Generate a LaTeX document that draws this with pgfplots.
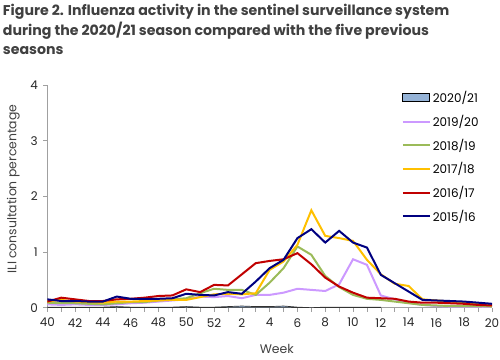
\documentclass[border=0pt]{standalone}
\usepackage{fontspec}
\setmainfont{Poppins}
\usepackage{pgfplots}
\usepackage{pgfplotstable}
\pgfplotsset{compat=1.18}
\definecolor{c2021}{RGB}{149,179,215}
\definecolor{c1920}{RGB}{204,153,255}
\definecolor{c1819}{RGB}{155,187,89}
\definecolor{c1718}{RGB}{255,192,0}
\definecolor{c1617}{RGB}{192,0,0}
\definecolor{c1516}{RGB}{0,0,128}
\definecolor{axgray}{RGB}{160,160,160}
\definecolor{txt}{RGB}{64,64,64}
% i = index (0 = week 40, 12 = week 52, 13 = week 1, 32 = week 20)
\pgfplotstableread{
i wk  s1920 s1819 s1718 s1617 s1516
0  40 0.06 0.09 0.11 0.11 0.15
1  41 0.05 0.08 0.14 0.18 0.12
2  42 0.06 0.08 0.11 0.15 0.12
3  43 0.05 0.07 0.10 0.12 0.11
4  44 0.05 0.06 0.09 0.12 0.11
5  45 0.06 0.08 0.11 0.15 0.20
6  46 0.08 0.10 0.11 0.16 0.16
7  47 0.09 0.10 0.12 0.18 0.16
8  48 0.11 0.13 0.13 0.21 0.16
9  49 0.13 0.15 0.14 0.22 0.17
10 50 0.15 0.17 0.14 0.33 0.25
11 51 0.20 0.26 0.19 0.28 0.23
12 52 0.19 0.34 0.24 0.41 0.22
13 1  0.21 0.32 0.25 0.40 0.28
14 2  0.17 0.32 0.24 0.60 0.25
15 3  0.23 0.23 0.26 0.80 0.47
16 4  0.23 0.45 0.68 0.84 0.71
17 5  0.27 0.71 0.83 0.87 0.86
18 6  0.34 1.10 1.13 0.98 1.25
19 7  0.32 0.95 1.75 0.78 1.41
20 8  0.30 0.57 1.29 0.54 1.17
21 9  0.42 0.37 1.25 0.38 1.38
22 10 0.87 0.23 1.20 0.27 1.17
23 11 0.77 0.16 0.86 0.18 1.08
24 12 0.22 0.14 0.60 0.17 0.59
25 13 0.15 0.11 0.43 0.16 0.44
26 14 0.09 0.08 0.39 0.11 0.29
27 15 0.05 0.05 0.15 0.09 0.14
28 16 0.03 0.04 0.13 0.09 0.13
29 17 0.02 0.03 0.11 0.08 0.12
30 18 0.02 0.03 0.09 0.07 0.11
31 19 0.02 0.03 0.07 0.05 0.09
32 20 0.01 0.02 0.04 0.04 0.07
}\seasons
\pgfplotstableread{
i wk s2021
0  40 0.01
1  41 0.01
2  42 0.01
3  43 0.01
4  44 0.01
5  45 0.02
6  46 0.01
7  47 0.01
8  48 0.01
9  49 0.01
10 50 0.02
11 51 0.01
12 52 0.01
13 1  0.02
14 2  0.03
15 3  0.02
16 4  0.02
17 5  0.03
18 6  0.01
19 7  0.00
20 8  0.01
21 9  0.01
22 10 0.01
23 11 0.01
24 12 0.01
}\current
\begin{document}
\begin{tikzpicture}
\path[use as bounding box] (-47.3bp,-52.3bp) rectangle (452.7bp,307.7bp);
\node[anchor=north west, align=left, font=\fontsize{14.2}{19.7}\selectfont\bfseries, text=txt, inner sep=0pt] at (-44.5bp,303.5bp)
{Figure 2. Influenza activity in the sentinel surveillance system\\during the 2020/21 season compared with the five previous\\seasons};
\begin{axis}[at={(0,0)}, anchor=south west, scale only axis,
  width=444.7bp, height=222.7bp,
  xmin=0, xmax=32, ymin=0, ymax=4,
  axis lines=left, axis line style={axgray, -, line width=0.8bp},
  xtick={0,2,...,32},
  xticklabels={40,42,44,46,48,50,52,2,4,6,8,10,12,14,16,18,20},
  minor xtick={1,3,...,31},
  ytick={0,1,2,3,4},
  tick align=outside, major tick length=4bp, minor tick length=4bp,
  tick style={axgray, line width=0.6bp},
  ticklabel style={font=\fontsize{12}{14}\selectfont, text=black!85},
  /pgf/number format/assume math mode=true,
  xticklabel style={yshift=-3bp},
  yticklabel style={xshift=-2bp},
  xlabel={Week}, ylabel={ILI consultation percentage},
  label style={font=\fontsize{12.5}{14}\selectfont, text=txt},
  xlabel style={at={(axis description cs:0.516,0)}, anchor=center, yshift=-41.3bp},
  ylabel style={at={(axis description cs:-0.0765,0.533)}, anchor=center},
  legend style={draw=none, fill=none, at={(rel axis cs:0.79,0.99)}, anchor=north west,
    font=\fontsize{12}{14}\selectfont, row sep=7bp, legend cell align=left},
  legend image code/.code={\draw[#1] (0bp,0bp) -- (27bp,0bp);},
  every axis plot/.append style={line width=2bp, mark=none},
]
\addplot[fill=c2021, draw=black!80, line width=0.7bp,
  legend image code/.code={\filldraw[fill=c2021, draw=black, line width=0.7bp] (0bp,-4bp) rectangle (27bp,4bp);}]
  table[x=i, y=s2021] {\current} \closedcycle;
\addlegendentry{2020/21}
\addplot[c1920] table[x=i, y=s1920] {\seasons};
\addlegendentry{2019/20}
\addplot[c1819] table[x=i, y=s1819] {\seasons};
\addlegendentry{2018/19}
\addplot[c1718] table[x=i, y=s1718] {\seasons};
\addlegendentry{2017/18}
\addplot[c1617] table[x=i, y=s1617] {\seasons};
\addlegendentry{2016/17}
\addplot[c1516] table[x=i, y=s1516] {\seasons};
\addlegendentry{2015/16}
\end{axis}
\end{tikzpicture}
\end{document}
